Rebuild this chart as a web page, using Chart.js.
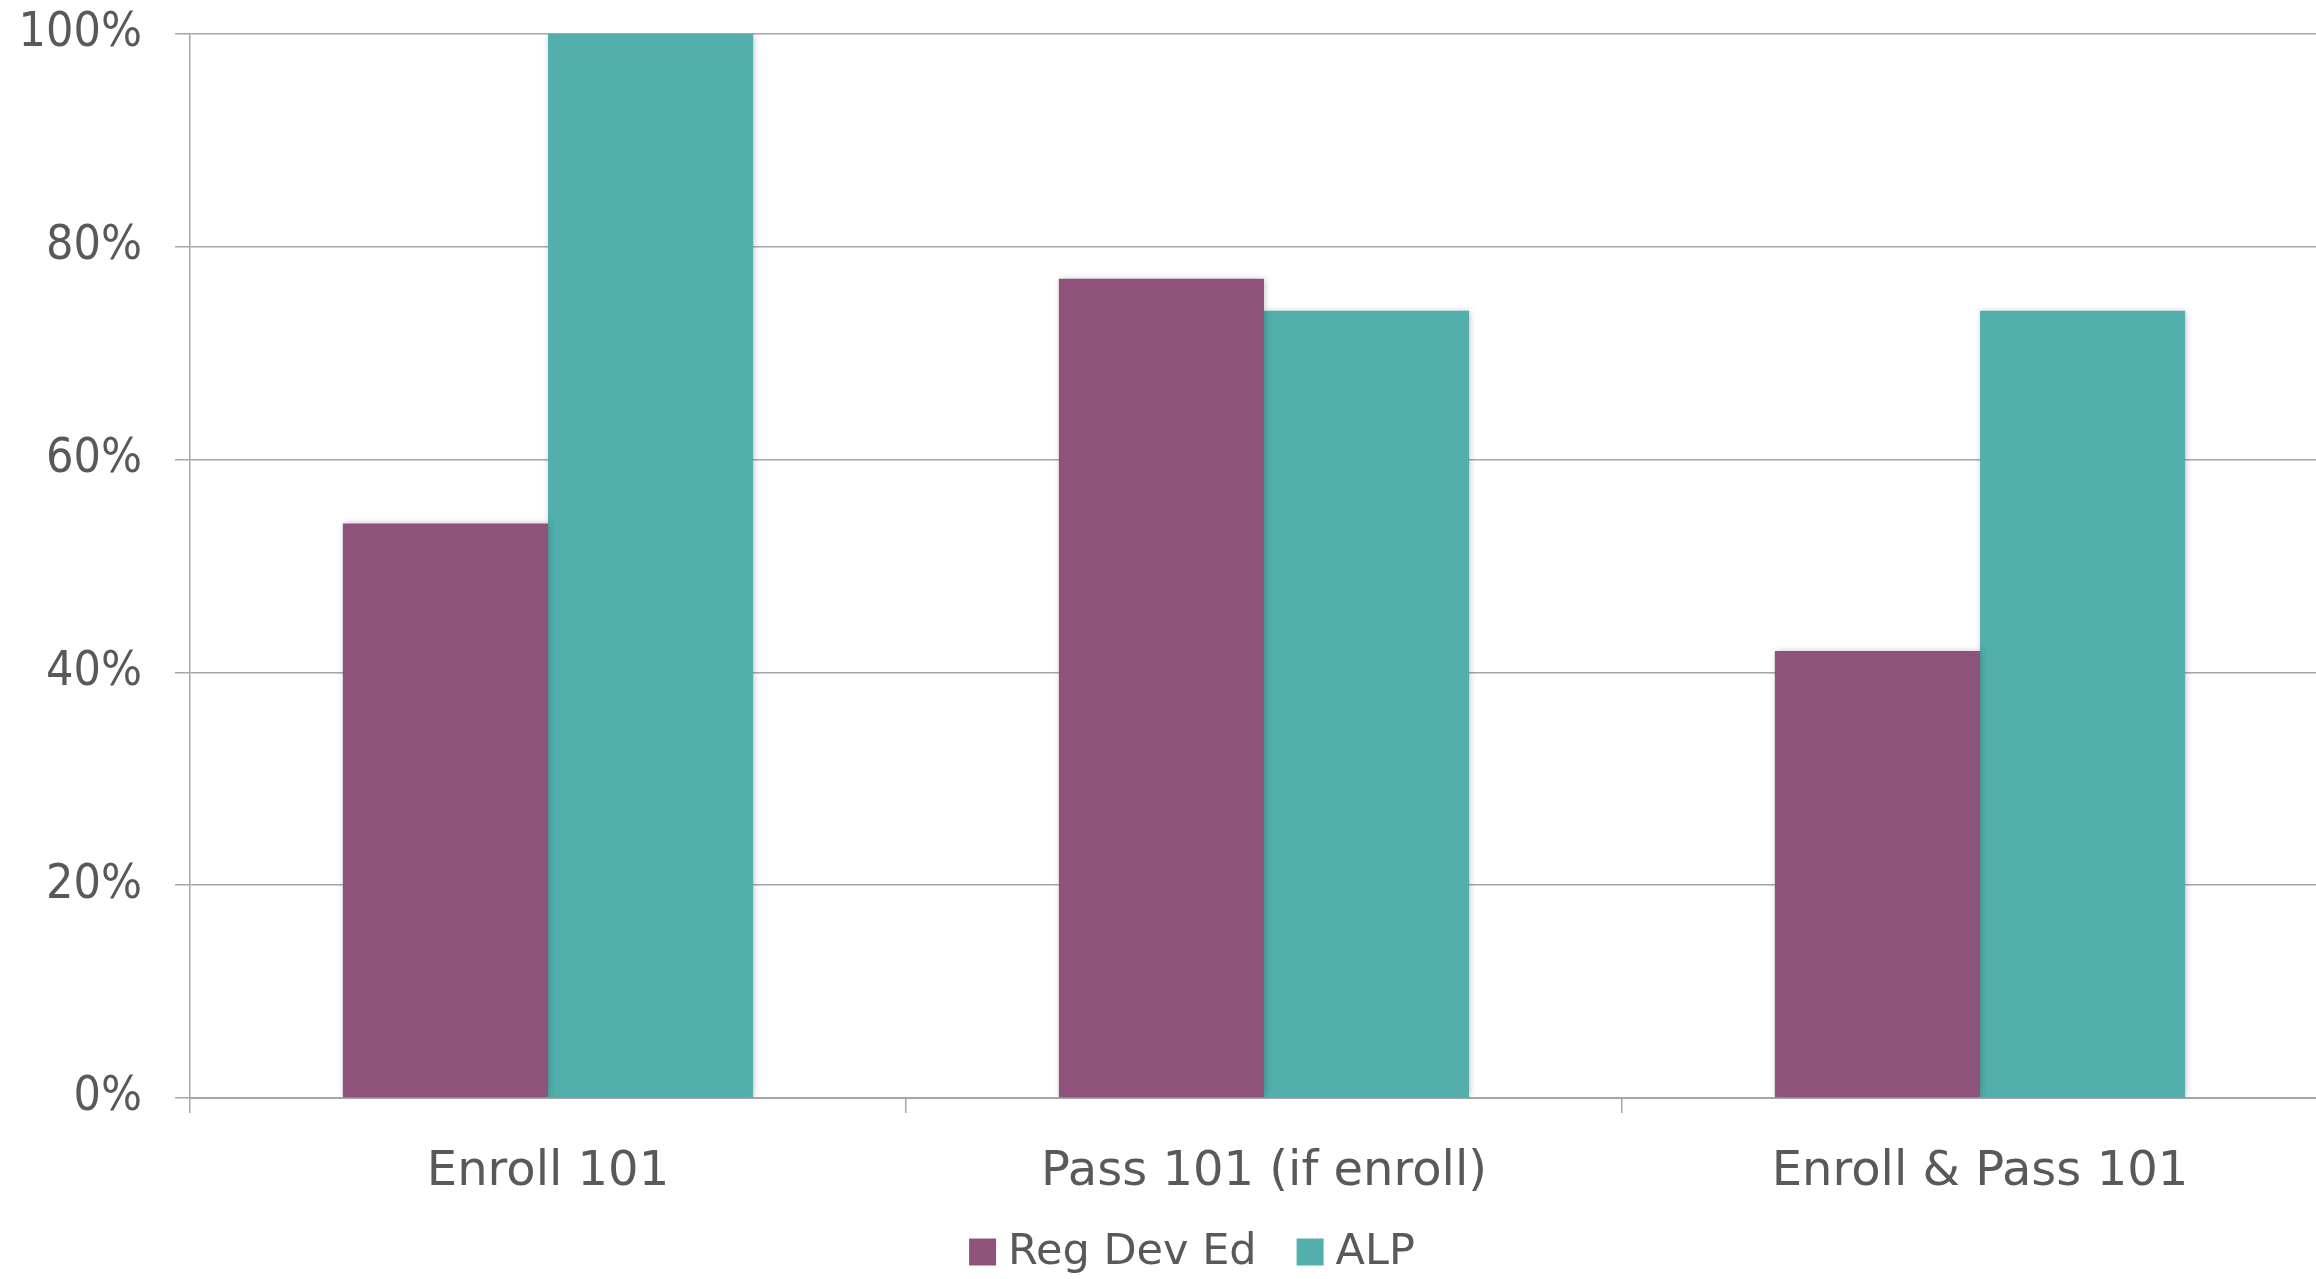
<!DOCTYPE html>
<html>
<head>
<meta charset="utf-8">
<script src="https://cdn.jsdelivr.net/npm/chart.js@4/dist/chart.umd.min.js"></script>
<style>
  html, body { margin: 0; padding: 0; background: #fff; overflow: hidden; }
  #wrap { width: 2384px; height: 1279px; position: relative; }
</style>
</head>
<body>
<div id="wrap"><canvas id="c"></canvas></div>
<script>
// Outcome categories along the x axis
const categories = ['Enroll 101', 'Pass 101 (if enroll)', 'Enroll & Pass 101'];
// Percent of students in each group
const regDevEd = [54, 77, 42];
const alp = [100, 74, 74];
// Series names
const seriesNames = ['Reg Dev Ed', 'ALP'];
// Percent tick values on the y axis
const yTicks = [0, 20, 40, 60, 80, 100];

const PURPLE = '#8f537b';
const TEAL = '#52afab';
const TEXT = '#595959';
const GRID = '#a6a6a6';
const FONT_NARROW = "'DejaVu Sans Condensed', 'DejaVu Sans', sans-serif";
const FONT = "'DejaVu Sans', sans-serif";

// Soft drop shadow behind the bars
const barShadow = {
  id: 'barShadow',
  beforeDatasetsDraw(chart) {
    const ctx = chart.ctx;
    ctx.save();
    ctx.shadowColor = 'rgba(0,0,0,0.22)';
    ctx.shadowBlur = 6;
    ctx.shadowOffsetX = 1;
    ctx.shadowOffsetY = 0;
  },
  afterDatasetsDraw(chart) {
    chart.ctx.restore();
  }
};

// Compact legend centred under the axis labels
const bottomLegend = {
  id: 'bottomLegend',
  afterDraw(chart) {
    const ctx = chart.ctx;
    const box = 27, gap = 12, itemGap = 40;
    const cy = 1252;
    ctx.save();
    ctx.font = '43px ' + FONT;
    ctx.textBaseline = 'middle';
    const items = chart.data.datasets.map(ds => ({
      label: ds.label, color: ds.backgroundColor, w: ctx.measureText(ds.label).width
    }));
    let total = 0;
    items.forEach((it, i) => { total += box + gap + it.w + (i ? itemGap : 0); });
    let x = chart.width / 2 - total / 2;
    items.forEach((it, i) => {
      if (i) x += itemGap;
      ctx.fillStyle = it.color;
      ctx.fillRect(x, cy - box / 2, box, box);
      x += box + gap;
      ctx.fillStyle = TEXT;
      ctx.textAlign = 'left';
      ctx.fillText(it.label, x, cy + 1);
      x += it.w;
    });
    ctx.restore();
  }
};

new Chart(document.getElementById('c'), {
  type: 'bar',
  data: {
    labels: categories,
    datasets: [
      { label: seriesNames[0], data: regDevEd, backgroundColor: PURPLE, borderWidth: 0 },
      { label: seriesNames[1], data: alp, backgroundColor: TEAL, borderWidth: 0 }
    ]
  },
  options: {
    responsive: true,
    maintainAspectRatio: false,
    animation: false,
    devicePixelRatio: 1,
    layout: { padding: { top: 34, right: 46, bottom: 71, left: 0 } },
    datasets: { bar: { categoryPercentage: 0.573, barPercentage: 1.0 } },
    plugins: {
      legend: { display: false },
      tooltip: { enabled: false }
    },
    scales: {
      x: {
        grid: {
          display: true, offset: true, drawOnChartArea: false, drawTicks: true,
          tickLength: 15, color: GRID, lineWidth: 1.5
        },
        border: { display: true, color: GRID, width: 2 },
        ticks: { color: TEXT, font: { family: FONT, size: 48 }, padding: 31, maxRotation: 0 },
        afterFit(scale) { scale.height = 110; scale.paddingLeft = 0; scale.paddingRight = 0; }
      },
      y: {
        min: 0, max: 100,
        afterBuildTicks(scale) { scale.ticks = yTicks.map(v => ({ value: v })); },
        grid: { color: GRID, lineWidth: 1.5, drawTicks: true, tickLength: 15 },
        border: { display: true, color: GRID, width: 1.5 },
        ticks: {
          color: TEXT, font: { family: FONT_NARROW, size: 48 }, padding: 33,
          callback: v => v + '%'
        },
        afterFit(scale) { scale.width = 190; scale.paddingTop = 0; scale.paddingBottom = 0; }
      }
    }
  },
  plugins: [barShadow, bottomLegend]
});
</script>
</body>
</html>
